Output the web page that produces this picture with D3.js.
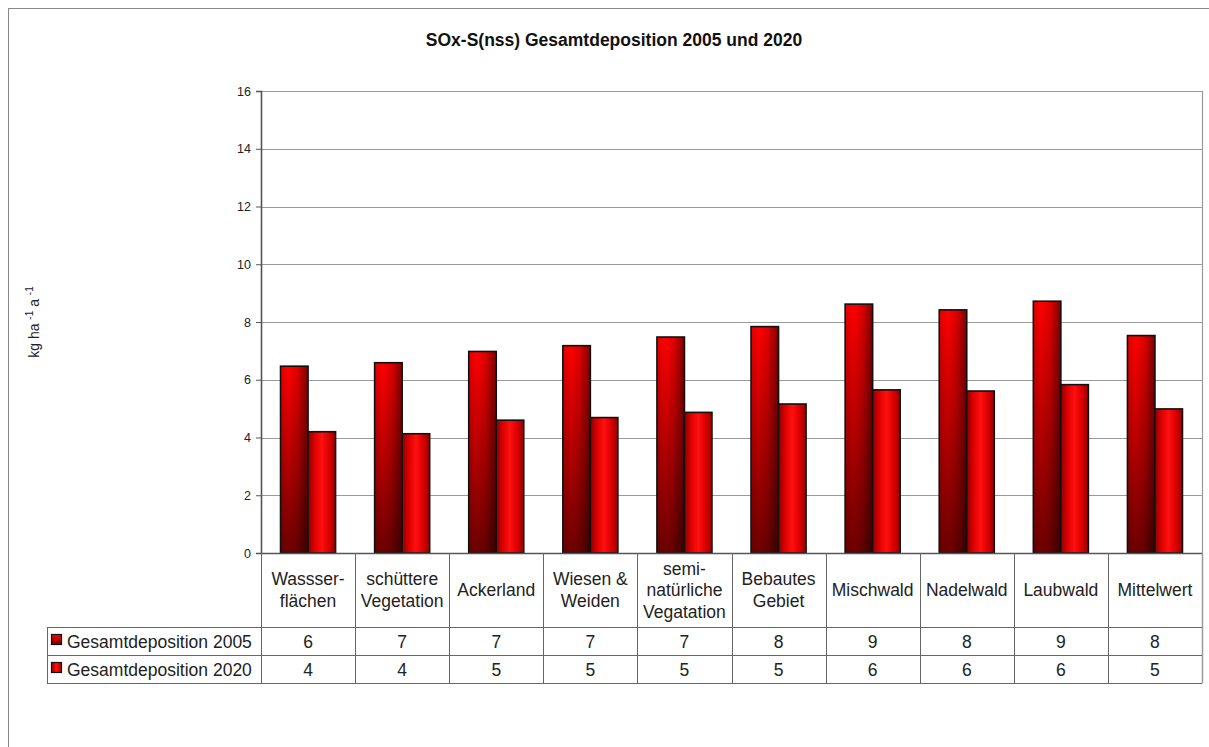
<!DOCTYPE html>
<html>
<head>
<meta charset="utf-8">
<script src="https://cdn.jsdelivr.net/npm/d3@7/dist/d3.min.js"></script>
<style>
  html, body { margin: 0; padding: 0; background: #fff; }
  svg { display: block; font-family: "Liberation Sans", Arial, sans-serif; }
</style>
</head>
<body>
<svg id="chart" width="1209" height="747"></svg>
<script>
// Land-use categories (each entry is a list of label lines)
const categories = [
  ["Wassser-", "flächen"],
  ["schüttere", "Vegetation"],
  ["Ackerland"],
  ["Wiesen &", "Weiden"],
  ["semi-", "natürliche", "Vegatation"],
  ["Bebautes", "Gebiet"],
  ["Mischwald"],
  ["Nadelwald"],
  ["Laubwald"],
  ["Mittelwert"]
];
const seriesNames = ["Gesamtdeposition 2005", "Gesamtdeposition 2020"];
const deposition2005 = [6.47, 6.59, 6.98, 7.18, 7.48, 7.84, 8.62, 8.42, 8.72, 7.53];
const deposition2020 = [4.20, 4.13, 4.60, 4.69, 4.87, 5.16, 5.65, 5.61, 5.83, 4.99];
const yTicks = [0, 2, 4, 6, 8, 10, 12, 14, 16];

const seriesValues = [deposition2005, deposition2020];
const catKeys = categories.map((c, i) => i);

const svg = d3.select("#chart");
const defs = svg.append("defs");

// 2005 bars: bright top fading to maroon at the base, shaded to the right
const g05v = defs.append("linearGradient").attr("id", "g05v")
  .attr("x1", 0).attr("y1", 0).attr("x2", 0).attr("y2", 1);
g05v.append("stop").attr("offset", 0).attr("stop-color", "#ff0000");
g05v.append("stop").attr("offset", 0.55).attr("stop-color", "#b00000");
g05v.append("stop").attr("offset", 1).attr("stop-color", "#6e0000");
const g05h = defs.append("linearGradient").attr("id", "g05h")
  .attr("x1", 0).attr("y1", 0).attr("x2", 1).attr("y2", 0);
g05h.append("stop").attr("offset", 0).attr("stop-color", "#000").attr("stop-opacity", 0.12);
g05h.append("stop").attr("offset", 0.3).attr("stop-color", "#000").attr("stop-opacity", 0);
g05h.append("stop").attr("offset", 0.6).attr("stop-color", "#000").attr("stop-opacity", 0.12);
g05h.append("stop").attr("offset", 1).attr("stop-color", "#000").attr("stop-opacity", 0.5);

// 2020 bars: cylinder-like horizontal shading
const g20 = defs.append("linearGradient").attr("id", "g20")
  .attr("x1", 0).attr("y1", 0).attr("x2", 1).attr("y2", 0);
g20.append("stop").attr("offset", 0).attr("stop-color", "#8c0000");
g20.append("stop").attr("offset", 0.25).attr("stop-color", "#e00000");
g20.append("stop").attr("offset", 0.5).attr("stop-color", "#ff1010");
g20.append("stop").attr("offset", 0.75).attr("stop-color", "#dd0000");
g20.append("stop").attr("offset", 1).attr("stop-color", "#950000");

// outer frame
svg.append("rect").attr("x", 8.5).attr("y", 8.5).attr("width", 1400).attr("height", 1000)
  .attr("fill", "none").attr("stroke", "#8a8a8a").attr("stroke-width", 1);

// title
svg.append("text").attr("x", 614).attr("y", 46).attr("text-anchor", "middle")
  .attr("font-size", 17.5).attr("font-weight", "bold").attr("fill", "#111")
  .text("SOx-S(nss) Gesamtdeposition 2005 und 2020");

const plotLeft = 261, plotRight = 1202, plotTop = 91, plotBottom = 553;
const y = d3.scaleLinear().domain([0, 16]).range([plotBottom, plotTop]);
const x = d3.scaleBand().domain(catKeys).range([plotLeft, plotRight]).paddingInner(0).paddingOuter(0);
const xs = d3.scaleBand().domain([0, 1]).range([0, x.bandwidth()]).paddingInner(0).paddingOuter(0.71);

// gridlines
svg.append("g").selectAll("line").data(yTicks.filter(t => t > 0)).join("line")
  .attr("x1", plotLeft).attr("x2", plotRight)
  .attr("y1", d => Math.round(y(d)) + 0.5).attr("y2", d => Math.round(y(d)) + 0.5)
  .attr("stroke", "#9a9a9a").attr("stroke-width", 1.2);
// right border
svg.append("line").attr("x1", plotRight + 0.5).attr("x2", plotRight + 0.5).attr("y1", plotTop).attr("y2", plotBottom)
  .attr("stroke", "#9a9a9a").attr("stroke-width", 1.2);

// y axis
const yAxis = d3.axisLeft(y).tickValues(yTicks).tickSize(5).tickPadding(5);
const ya = svg.append("g").attr("transform", `translate(${plotLeft},0)`).call(yAxis);
ya.select(".domain").attr("stroke", "#555").attr("stroke-width", 1.6);
ya.selectAll(".tick line").attr("stroke", "#555");
ya.selectAll(".tick text").attr("font-size", 12.5).attr("fill", "#222")
  .attr("font-family", "Liberation Sans, Arial, sans-serif");

// y label with superscripts
const yl = svg.append("text").attr("transform", "translate(39,322) rotate(-90)")
  .attr("text-anchor", "middle").attr("font-size", 14).attr("fill", "#222");
yl.append("tspan").text("kg ha ");
yl.append("tspan").attr("dy", -6).attr("font-size", 10).text("-1");
yl.append("tspan").attr("dy", 6).text(" a ");
yl.append("tspan").attr("dy", -6).attr("font-size", 10).text("-1");

// bars
const bars = svg.append("g");
seriesValues.forEach((vals, s) => {
  const g = bars.append("g");
  g.selectAll("rect.base").data(vals).join("rect")
    .attr("x", (d, i) => x(i) + xs(s))
    .attr("y", d => y(d))
    .attr("width", xs.bandwidth())
    .attr("height", d => y(0) - y(d))
    .attr("fill", s === 0 ? "url(#g05v)" : "url(#g20)");
  if (s === 0) {
    g.selectAll("rect.shade").data(vals).join("rect")
      .attr("x", (d, i) => x(i) + xs(s))
      .attr("y", d => y(d))
      .attr("width", xs.bandwidth())
      .attr("height", d => y(0) - y(d))
      .attr("fill", "url(#g05h)");
  }
  g.selectAll("rect.edge").data(vals).join("rect")
    .attr("x", (d, i) => x(i) + xs(s))
    .attr("y", d => y(d))
    .attr("width", xs.bandwidth())
    .attr("height", d => y(0) - y(d))
    .attr("fill", "none").attr("stroke", "#111").attr("stroke-width", 1.6);
});

// x axis baseline
svg.append("line").attr("x1", plotLeft).attr("x2", plotRight).attr("y1", plotBottom + 0.5).attr("y2", plotBottom + 0.5)
  .attr("stroke", "#555").attr("stroke-width", 1.4);

// data table
const tableLeft = 47, headerBottom = 627, row1Bottom = 655, row2Bottom = 683;
const tbl = svg.append("g").attr("stroke", "#666").attr("stroke-width", 1);
// column separators through header and rows
catKeys.forEach(i => {
  const cx = Math.round(x(i)) + 0.5;
  tbl.append("line").attr("x1", cx).attr("x2", cx).attr("y1", plotBottom).attr("y2", row2Bottom);
});
tbl.append("line").attr("x1", plotRight + 0.5).attr("x2", plotRight + 0.5).attr("y1", plotBottom).attr("y2", row2Bottom + 0.5)
  .attr("stroke", "#999").attr("stroke-width", 1.5);
[headerBottom, row1Bottom, row2Bottom].forEach(yy => {
  tbl.append("line").attr("x1", tableLeft).attr("x2", plotRight).attr("y1", yy + 0.5).attr("y2", yy + 0.5);
});
tbl.append("line").attr("x1", tableLeft + 0.5).attr("x2", tableLeft + 0.5)
  .attr("y1", headerBottom).attr("y2", row2Bottom);

// category labels in header row
const lineH = 21.5;
const hdr = svg.append("g").attr("font-size", 17.5).attr("fill", "#222").attr("text-anchor", "middle");
categories.forEach((lines, i) => {
  const cx = x(i) + x.bandwidth() / 2;
  const y0 = 596 - (lines.length - 1) * lineH / 2;
  const t = hdr.append("text").attr("x", cx).attr("y", y0);
  lines.forEach((ln, k) => {
    t.append("tspan").attr("x", cx).attr("y", y0 + k * lineH).text(ln);
  });
});

// table rows: legend keys, series names, rounded values
const fmt = d3.format(".0f");
const rowMid = [641, 669];
seriesValues.forEach((vals, s) => {
  svg.append("rect").attr("x", 51.5).attr("y", rowMid[s] - 6.5).attr("width", 10).attr("height", 10)
    .attr("fill", s === 0 ? "url(#g05v)" : "url(#g20)")
    .attr("stroke", "#111").attr("stroke-width", 1.2);
  svg.append("text").attr("x", 67).attr("y", rowMid[s] + 6.5)
    .attr("font-size", 17.5).attr("fill", "#222").text(seriesNames[s]);
  svg.append("g").selectAll("text").data(vals).join("text")
    .attr("x", (d, i) => x(i) + x.bandwidth() / 2)
    .attr("y", rowMid[s] + 6.5)
    .attr("text-anchor", "middle").attr("font-size", 17.5).attr("fill", "#222")
    .text(d => fmt(d));
});
</script>
</body>
</html>
